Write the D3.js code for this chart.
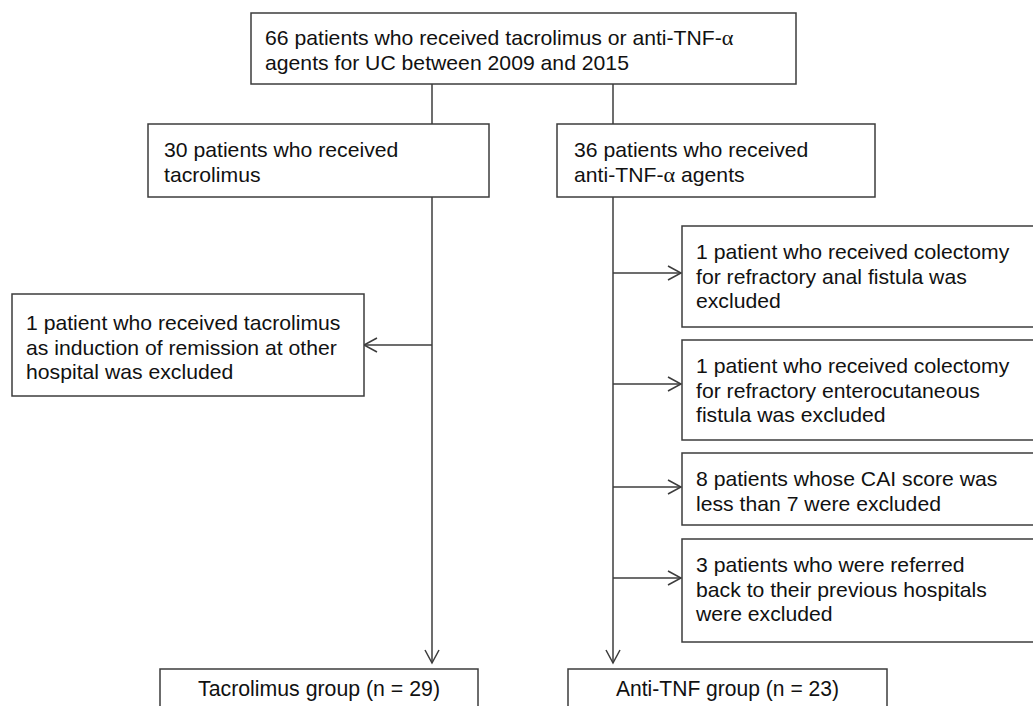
<!DOCTYPE html>
<html>
<head>
<meta charset="utf-8">
<script src="https://d3js.org/d3.v7.min.js"></script>
<style>
body { margin: 0; background: #fff; }
svg { display: block; }
.box { fill: #fff; stroke: #3c3c3c; stroke-width: 1.5; }
.link { fill: none; stroke: #3c3c3c; stroke-width: 1.5; }
.lbl { font-family: "Liberation Sans", Arial, sans-serif; font-size: 20px; fill: #111; }
.grp { font-family: "Liberation Sans Narrow", "Liberation Sans", Arial, sans-serif; font-size: 22px; fill: #111; }
.greek { font-family: "Liberation Serif", "DejaVu Serif", serif; }
</style>
</head>
<body>
<div id="output"></div>
<script>
// box texts
var topText = ["66 patients who received tacrolimus or anti-TNF-\u03b1", "agents for UC between 2009 and 2015"];
var armText = [
  ["30 patients who received", "tacrolimus"],
  ["36 patients who received", "anti-TNF-\u03b1 agents"]
];
var leftExcluded = ["1 patient who received tacrolimus", "as induction of remission at other", "hospital was excluded"];
var rightExcluded = [
  ["1 patient who received colectomy", "for refractory anal fistula was", "excluded"],
  ["1 patient who received colectomy", "for refractory enterocutaneous", "fistula was excluded"],
  ["8 patients whose CAI score was", "less than 7 were excluded"],
  ["3 patients who were referred", "back to their previous hospitals", "were excluded"]
];
var groupText = ["Tacrolimus group (n = 29)", "Anti-TNF group (n = 23)"];

var W = 1033, H = 706;
var svg = d3.select("#output").append("svg").attr("width", W).attr("height", H);

// layout (page pixels)
var colX = [432, 613];
var lineH = 24.5;
var stretch = 1.06; // the original lettering is a bit wide
var boxes = [
  {x: 251, y: 13, w: 545, h: 71, tx: 265, ty: 45, lines: topText},
  {x: 148, y: 124, w: 341, h: 73, tx: 164, ty: 157, lines: armText[0]},
  {x: 557, y: 124, w: 318, h: 73, tx: 574, ty: 157, lines: armText[1]},
  {x: 12, y: 294, w: 352, h: 102, tx: 26, ty: 330, lines: leftExcluded}
];
var rightTops = [226, 340, 453, 539], rightBottoms = [327, 440, 525, 642];
rightExcluded.forEach(function(l, i) {
  boxes.push({x: 682, y: rightTops[i], w: 360, h: rightBottoms[i] - rightTops[i], tx: 696, ty: rightTops[i] + 33, lines: l});
});

// connectors
var links = [
  [[colX[0], 84], [colX[0], 124]],
  [[colX[1], 84], [colX[1], 124]],
  [[colX[0], 197], [colX[0], 663]],
  [[colX[1], 197], [colX[1], 663]],
  [[colX[0], 345], [364, 345]]
];
var arrowY = [273, 384, 487, 578];
arrowY.forEach(function(y) { links.push([[colX[1], y], [681, y]]); });

var line = d3.line();
svg.selectAll(".link").data(links).enter().append("path")
  .attr("class", "link")
  .attr("d", function(d) { return line(d); });

// open arrow heads
function head(tip, dir) {
  var s = 13, h = 7;
  if (dir == "down") return line([[tip[0] - h, tip[1] - s], tip, [tip[0] + h, tip[1] - s]]);
  if (dir == "left") return line([[tip[0] + s, tip[1] - h], tip, [tip[0] + s, tip[1] + h]]);
  return line([[tip[0] - s, tip[1] - h], tip, [tip[0] - s, tip[1] + h]]);
}
var heads = [[[colX[0], 663], "down"], [[colX[1], 663], "down"], [[364, 345], "left"]];
arrowY.forEach(function(y) { heads.push([[681, y], "right"]); });
svg.selectAll(".head").data(heads).enter().append("path")
  .attr("class", "link head")
  .attr("d", function(d) { return head(d[0], d[1]); });

// boxes
var g = svg.selectAll(".node").data(boxes).enter().append("g").attr("class", "node");
g.append("rect").attr("class", "box")
  .attr("x", function(d) { return d.x; }).attr("y", function(d) { return d.y; })
  .attr("width", function(d) { return d.w; }).attr("height", function(d) { return d.h; });

function writeLine(sel, str) {
  var parts = str.split("\u03b1");
  parts.forEach(function(p, i) {
    sel.append("tspan").text(p);
    if (i < parts.length - 1) sel.append("tspan").attr("class", "greek").attr("font-size", "21px").text("\u03b1");
  });
}
g.each(function(d) {
  var node = d3.select(this);
  d.lines.forEach(function(s, i) {
    var t = node.append("text").attr("class", "lbl")
      .attr("transform", "translate(" + d.tx + "," + (d.ty + i * lineH) + ") scale(" + stretch + ",1)");
    writeLine(t, s);
  });
});

// group boxes at the bottom (cut by the page edge)
var groups = [{x: 160, w: 318, text: groupText[0], len: 242}, {x: 568, w: 319, text: groupText[1], len: 223}];
var gg = svg.selectAll(".grpbox").data(groups).enter().append("g");
gg.append("rect").attr("class", "box")
  .attr("x", function(d) { return d.x; }).attr("y", 669)
  .attr("width", function(d) { return d.w; }).attr("height", 60);
gg.append("text").attr("class", "grp")
  .attr("x", function(d) { return d.x + d.w / 2; }).attr("y", 696)
  .attr("text-anchor", "middle")
  .attr("textLength", function(d) { return d.len; })
  .attr("lengthAdjust", "spacingAndGlyphs")
  .text(function(d) { return d.text; });
</script>
</body>
</html>
